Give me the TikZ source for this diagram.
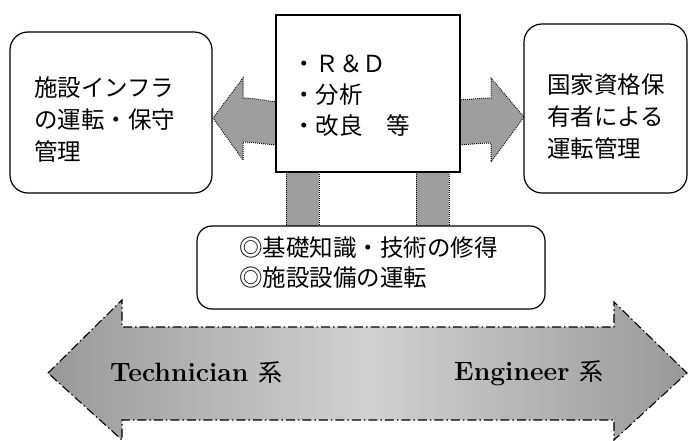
\documentclass[tikz,border=0pt]{standalone}
\usepackage{fontspec}
\newfontfamily\jp{Noto Sans CJK JP}
\begin{document}
\begin{tikzpicture}[x=1pt,y=-1pt,
  roundbox/.style={draw=black,line width=1.2pt,rounded corners=18pt,fill=white,inner sep=0pt},
  plainbox/.style={draw=black,line width=1.2pt,fill=white,inner sep=0pt},
  jtext/.style={font=\jp\fontsize{23.5}{32}\selectfont,align=left,inner sep=0pt,anchor=west},
  blockarrow/.style={fill=black!38,draw=black,line width=1pt,dash pattern=on 0.8pt off 1.2pt},
  bigarrow/.style={draw=black,line width=1.1pt,dash pattern=on 9pt off 3pt on 1.5pt off 3pt,
    left color=black!40,right color=black!40,middle color=black!18},
  bigtext/.style={font=\bfseries\fontsize{26.5}{30}\selectfont,inner sep=0pt,anchor=west}
]
\useasboundingbox (0,0) rectangle (688,441);

% big double arrow
\draw[bigarrow] (48,373) -- (122,300) -- (122,327) -- (614,327) -- (614,302) -- (687,373)
  -- (614,440) -- (614,420) -- (122,420) -- (122,440) -- cycle;
\node[bigtext] (tech) at (110,373) {Technician {\jp\mdseries\fontsize{24}{28}\selectfont 系}};
\node[bigtext] (eng) at (454,373) {Engineer {\jp\mdseries\fontsize{24}{28}\selectfont 系}};

% block arrows
\draw[blockarrow] (277,102) .. controls (262,100) and (252,98) .. (243,98) -- (243,78) -- (213,118)
  -- (243,160) -- (243,142) .. controls (252,142) and (262,144) .. (277,145) -- cycle;
\draw[blockarrow] (459,100) .. controls (474,99) and (482,98) .. (491,98) -- (491,78) -- (524,117)
  -- (491,162) -- (491,143) .. controls (482,143) and (474,144) .. (459,145) -- cycle;
\draw[blockarrow] (286,170) rectangle (319,228);
\draw[blockarrow] (416,170) rectangle (449,228);

% boxes
\node[roundbox,minimum width=202pt,minimum height=161pt] (left) at (111,112.5) {};
\node[plainbox,minimum width=184pt,minimum height=157pt] (ctr) at (368,93.5) {};
\node[roundbox,minimum width=163pt,minimum height=169pt] (right) at (605.5,108.5) {};
\node[roundbox,rounded corners=15pt,minimum width=348pt,minimum height=83pt] (bot) at (371,267.5) {};

% texts
\node[jtext] (lt) at (34,120) {施設インフラ\\の運転・保守\\管理};
\node[jtext,font=\jp\fontsize{23.5}{31}\selectfont] (ct) at (292,96) {・Ｒ＆Ｄ\\・分析\\・改良　等};
\node[jtext] (rt) at (547,117) {国家資格保\\有者による\\運転管理};
\node[jtext,font=\jp\fontsize{23.5}{30}\selectfont] (bt) at (239,263) {◎基礎知識・技術の修得\\◎施設設備の運転};
\end{tikzpicture}
\end{document}
